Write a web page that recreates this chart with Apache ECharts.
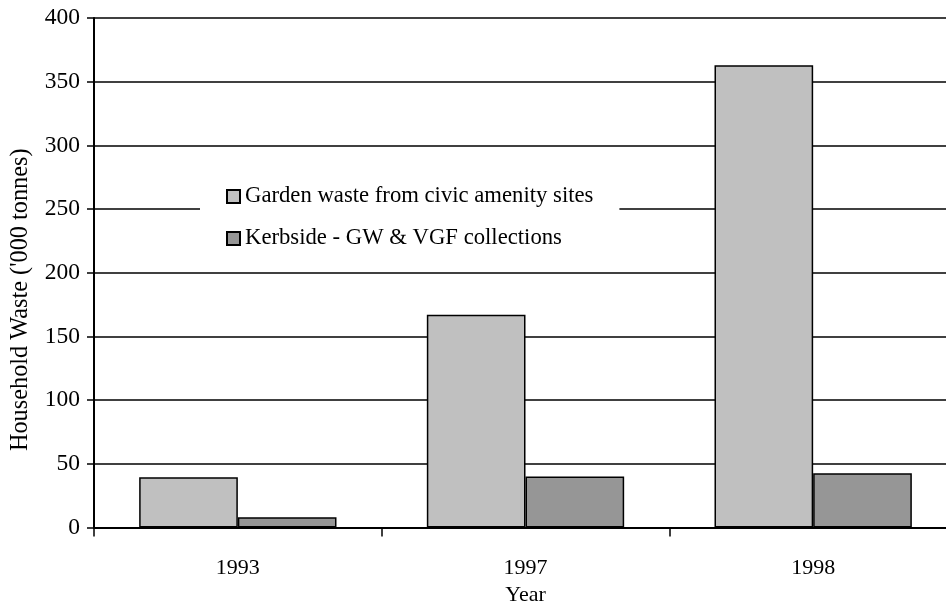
<!DOCTYPE html>
<html>
<head>
<meta charset="utf-8">
<script src="https://cdn.jsdelivr.net/npm/echarts@6/dist/echarts.min.js"></script>
<style>
  html, body { margin: 0; padding: 0; background: #fff; }
  #chart { width: 946px; height: 605px; }
</style>
</head>
<body>
<div id="chart"></div>
<script>
// Household waste composted ('000 tonnes)
const years = ['1993', '1997', '1998'];
const gardenWaste = [39.5, 167, 363];
const kerbside = [8, 40, 42.5];
const yTicks = [0, 50, 100, 150, 200, 250, 300, 350, 400];

const serif = "'Liberation Serif', 'Times New Roman', serif";
const chart = echarts.init(document.getElementById('chart'));

chart.setOption({
  animation: false,
  backgroundColor: '#fff',
  textStyle: { fontFamily: serif, color: '#000' },
  grid: { left: 94, top: 18, bottom: 77.5, right: -11, outerBoundsMode: 'none', containLabel: false },
  legend: {
    orient: 'vertical',
    left: 200,
    top: 169,
    backgroundColor: '#fff',
    padding: [16, 26, 16, 26],
    icon: 'rect',
    itemWidth: 13,
    itemHeight: 13,
    itemGap: 19,
    textStyle: { fontFamily: serif, fontSize: 22.7, color: '#000', lineHeight: 20 },
    data: ['Garden waste from civic amenity sites', 'Kerbside - GW & VGF collections']
  },
  xAxis: {
    type: 'category',
    data: years,
    name: 'Year',
    nameLocation: 'middle',
    nameGap: 57,
    nameTextStyle: { fontFamily: serif, fontSize: 22, color: '#000' },
    axisLine: { lineStyle: { color: '#000', width: 2 } },
    axisTick: { show: true, length: 9, lineStyle: { color: '#000', width: 1.5 } },
    axisLabel: { fontFamily: serif, fontSize: 22, color: '#000', margin: 30 }
  },
  yAxis: {
    type: 'value',
    min: yTicks[0],
    max: yTicks[yTicks.length - 1],
    interval: yTicks[1] - yTicks[0],
    name: "Household Waste ('000 tonnes)",
    nameLocation: 'middle',
    nameGap: 61,
    // extra right padding nudges the rotated title down the axis
    nameTextStyle: { fontFamily: serif, fontSize: 24.3, color: '#000', padding: [0, 54, 0, 0] },
    axisLine: { show: true, lineStyle: { color: '#000', width: 2 } },
    axisTick: { show: true, length: 7, lineStyle: { color: '#000', width: 1.5 } },
    axisLabel: { fontFamily: serif, fontSize: 23.5, color: '#000', margin: 14 },
    splitLine: { show: true, lineStyle: { color: '#000', width: 1.5 } }
  },
  series: [
    {
      name: 'Garden waste from civic amenity sites',
      type: 'bar',
      data: gardenWaste,
      barWidth: '34.3%',
      barGap: '0%',
      itemStyle: { color: '#c0c0c0', borderColor: '#000', borderWidth: 1.5 }
    },
    {
      name: 'Kerbside - GW & VGF collections',
      type: 'bar',
      data: kerbside,
      barWidth: '34.3%',
      itemStyle: { color: '#969696', borderColor: '#000', borderWidth: 1.5 }
    }
  ]
});
</script>
</body>
</html>
